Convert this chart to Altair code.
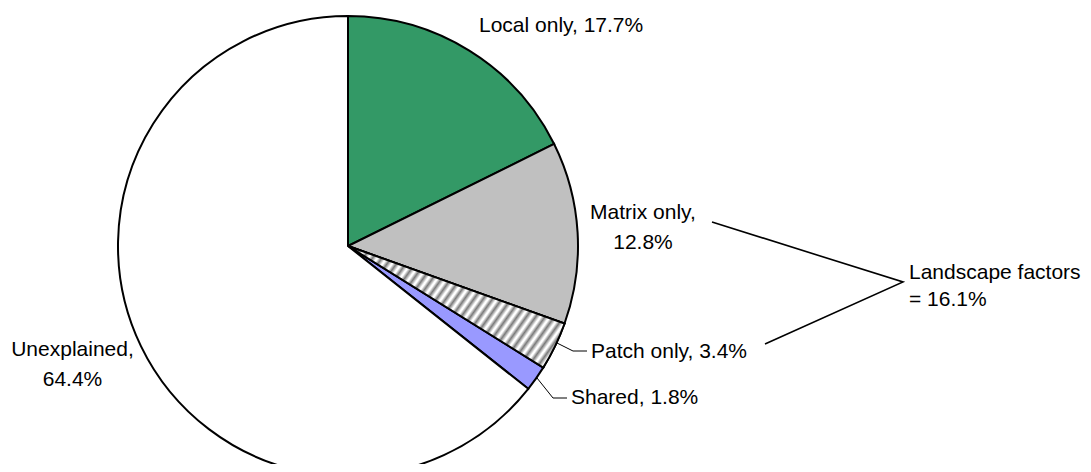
import math
import altair as alt
import pandas as pd

# ---- data ----
categories = ["Local only", "Matrix only", "Patch only", "Shared", "Unexplained"]
values = [17.7, 12.8, 3.4, 1.8, 64.4]
slice_labels = [["Local only, 17.7%"], ["Matrix only,", "12.8%"], ["Patch only, 3.4%"],
                ["Shared, 1.8%"], ["Unexplained,", "64.4%"]]
group_label = ["Landscape factors", "= 16.1%"]

# ---- style / layout ----
colors = ["#339966", "#c0c0c0", "#ffffff", "#9999ff", "#ffffff"]
FONT = "Liberation Sans"
FS = 21
CX, CY, R = 340, 238, 230
W, H = 1075, 456

# label anchors (chart pixels): x, baseline y of first line, line step, align
label_layout = [
    (471, 24, 0, "left"),
    (635, 211, 30, "center"),
    (583, 350, 0, "left"),
    (563, 396, 0, "left"),
    (64.5, 348, 30, "center"),
]
group_layout = (901, 271, 27, "left")
leaders = [
    [(549, 335), (565, 343), (579, 343)],
    [(529, 370), (545, 390), (559, 390)],
]
bracket = [(704, 214), (895, 274), (757, 336)]

total = sum(values)
df = pd.DataFrame({"category": categories, "value": values, "order": list(range(len(values)))})

base = alt.Chart(df).transform_window(
    cum="sum(value)", sort=[alt.SortField("order")], frame=[None, 0]
).transform_calculate(start="datum.cum - datum.value")

theta_scale = alt.Scale(domain=[0, total], range=[0, 2 * math.pi])

pie = base.mark_arc(radius=R, stroke="black", strokeWidth=2).encode(
    theta=alt.Theta("start:Q", scale=theta_scale),
    theta2="cum:Q",
    fill=alt.Fill("category:N", scale=alt.Scale(domain=categories, range=colors), legend=None),
    x=alt.value(CX), y=alt.value(CY),
)

# striped fill for "Patch only"
N = 31
stops = []
for k in range(N):
    stops.append(alt.GradientStop(offset=k / N, color="#ffffff"))
    stops.append(alt.GradientStop(offset=(k + 0.15) / N, color="#ffffff"))
    stops.append(alt.GradientStop(offset=(k + 0.55) / N, color="#7a7a7a"))
stops.append(alt.GradientStop(offset=1.0, color="#ffffff"))
stripes = alt.LinearGradient(gradient="linear", stops=stops, x1=0, y1=0, x2=1.15, y2=0.46)

patch = base.transform_filter(alt.datum.category == "Patch only").mark_arc(
    radius=R, fill=stripes, stroke="black", strokeWidth=2
).encode(
    theta=alt.Theta("start:Q", scale=theta_scale),
    theta2="cum:Q",
    x=alt.value(CX), y=alt.value(CY),
)

# text
rows = []
for lines, (lx, ly, step, al) in zip(slice_labels, label_layout):
    for i, t in enumerate(lines):
        rows.append({"x": lx, "y": ly + i * step, "text": t, "align": al})
gx, gy, gstep, gal = group_layout
for i, t in enumerate(group_label):
    rows.append({"x": gx, "y": gy + i * gstep, "text": t, "align": gal})
tdf = pd.DataFrame(rows)


def text_layer(al):
    return alt.Chart(tdf).transform_filter(alt.datum.align == al).mark_text(
        font=FONT, fontSize=FS, color="black", align=al, baseline="alphabetic"
    ).encode(
        x=alt.X("x:Q", scale=None, axis=None),
        y=alt.Y("y:Q", scale=None, axis=None),
        text="text:N",
    )


lrows = []
for gi, pts in enumerate(leaders):
    for oi, (px, py) in enumerate(pts):
        lrows.append({"g": gi, "o": oi, "x": px, "y": py})
ldf = pd.DataFrame(lrows)
leader_layer = alt.Chart(ldf).mark_line(color="black", strokeWidth=1).encode(
    x=alt.X("x:Q", scale=None, axis=None),
    y=alt.Y("y:Q", scale=None, axis=None),
    detail="g:N", order="o:Q",
)

bdf = pd.DataFrame([{"o": i, "x": p[0], "y": p[1]} for i, p in enumerate(bracket)])
bracket_layer = alt.Chart(bdf).mark_line(color="black", strokeWidth=1.6).encode(
    x=alt.X("x:Q", scale=None, axis=None),
    y=alt.Y("y:Q", scale=None, axis=None),
    order="o:Q",
)

chart = alt.layer(
    pie, patch, leader_layer, bracket_layer, text_layer("left"), text_layer("center")
).properties(
    width=W, height=H, autosize=alt.AutoSizeParams(type="none"), padding=0
).configure_view(stroke=None)

chart.save("out.html", embed_options={"renderer": "svg", "actions": False})
